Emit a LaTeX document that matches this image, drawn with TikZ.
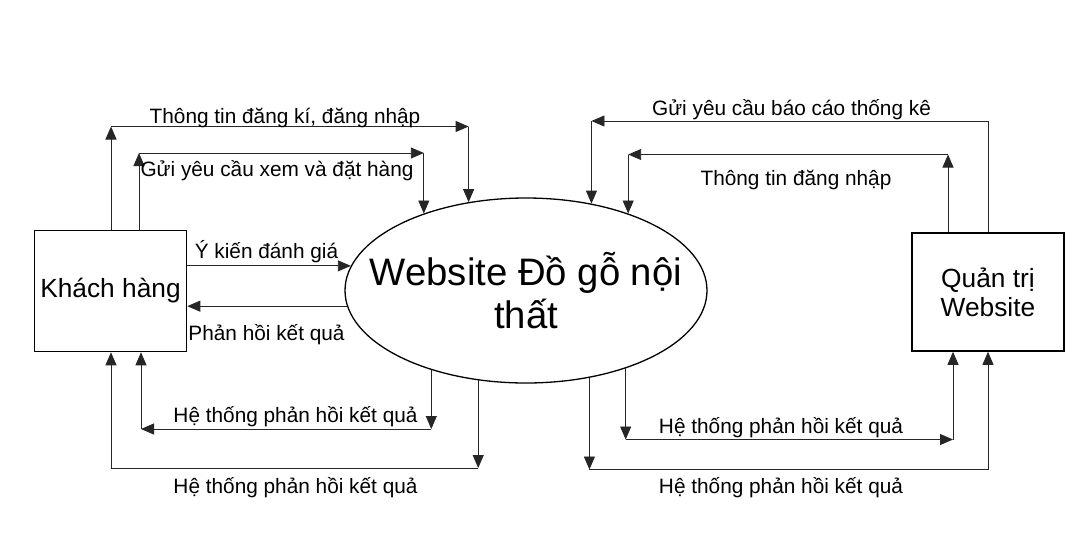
\documentclass[tikz,border=0pt]{standalone}
\usepackage{fontspec}
\setmainfont{Liberation Sans}
\usetikzlibrary{arrows.meta, shapes.geometric}

\begin{document}
\begin{tikzpicture}[
    x=1pt, y=-1pt,
    kbox/.style={draw, line width=1.6pt, minimum width=152pt, minimum height=121pt, inner sep=0pt, align=center, font=\fontsize{26.3}{29}\selectfont},
    webell/.style={draw, ellipse, line width=1.3pt, minimum width=362pt, minimum height=185pt, inner sep=0pt},
    bigtxt/.style={align=center, inner sep=0pt, font=\fontsize{38.3}{43}\selectfont},
    arr/.style={-{Triangle[length=13pt, width=11pt]}, line width=0.9pt, draw=black!85},
    plain/.style={line width=0.9pt, draw=black!85},
    lbl/.style={anchor=base, inner sep=0pt, font=\fontsize{20.8}{24}\selectfont}
]
\path[use as bounding box, fill=white] (0,0) rectangle (1090,542);
% Entities and process
\node[kbox] (kh) at (110.5,291) {Khách hàng};
\node[kbox, minimum height=118pt] (qt) at (988,292) {Quản trị\\Website};
\node[webell] (web) at (526,290.5) {};
\node[bigtxt] (webtxt) at (web.center) {Website Đồ gỗ nội\\thất};
% Corner points
\coordinate (c1) at (111,126.5);
\coordinate (c2) at (web.123 |- c1);
\coordinate (c3) at (139,153);
\coordinate (c4) at (web.143.55 |- c3);
\coordinate (c5) at (web.220.5 |- 0,429);
\coordinate (c6) at (141,429);
\coordinate (c7) at (web.242.24 |- 0,468);
\coordinate (c8) at (111,468);
\coordinate (c9) at (web.322.75 |- 0,439.5);
\coordinate (c10) at (953,439.5);
\coordinate (c11) at (web.306.5 |- 0,469.5);
\coordinate (c12) at (988,469.5);
\coordinate (c13) at (988,121);
\coordinate (c14) at (web.53.5 |- c13);
\coordinate (c15) at (948,154.5);
\coordinate (c16) at (web.37.25 |- c15);
% --- Khach hang -> Website ---
\draw[arr] (c1 |- kh.north) -- (c1);
\draw[arr] (c1) -- (c2);
\draw[arr] (c2) -- (web.123);
\draw[arr] (c3 |- kh.north) -- (c3);
\draw[arr] (c3) -- (c4);
\draw[arr] (c4) -- (web.143.55);
\draw[arr] (kh.east |- web.172.36) -- (web.172.36);
\draw[arr] (web.185.96) -- (kh.east |- web.185.96);
% --- Website -> Khach hang ---
\draw[arr] (web.220.5) -- (c5);
\draw[arr] (c5) -- (c6);
\draw[arr] (c6) -- (c6 |- kh.south);
\draw[arr] (web.242.24) -- (c7);
\draw[plain] (c7) -- (c8);
\draw[arr] (c8) -- (c8 |- kh.south);
% --- Quan tri <-> Website ---
\draw[plain] (c13 |- qt.north) -- (c13);
\draw[arr] (c13) -- (c14);
\draw[arr] (c14) -- (web.53.5);
\draw[arr] (c15 |- qt.north) -- (c15);
\draw[arr] (c15) -- (c16);
\draw[arr] (c16) -- (web.37.25);
\draw[arr] (web.322.75) -- (c9);
\draw[arr] (c9) -- (c10);
\draw[arr] (c10) -- (c10 |- qt.south);
\draw[arr] (web.306.5) -- (c11);
\draw[plain] (c11) -- (c12);
\draw[arr] (c12) -- (c12 |- qt.south);
% Labels
\node[lbl] (l1) at (285,123) {Thông tin đăng kí, đăng nhập};
\node[lbl] (l2) at (277,176.7) {Gửi yêu cầu xem và đặt hàng};
\node[lbl] (l3) at (266.5,258) {Ý kiến đánh giá};
\node[lbl] (l4) at (266.5,340) {Phản hồi kết quả};
\node[lbl] (l5) at (295.5,422) {Hệ thống phản hồi kết quả};
\node[lbl] (l6) at (295.5,493.3) {Hệ thống phản hồi kết quả};
\node[lbl] (l7) at (791.5,115) {Gửi yêu cầu báo cáo thống kê};
\node[lbl] (l8) at (796,185) {Thông tin đăng nhập};
\node[lbl] (l9) at (781,433.3) {Hệ thống phản hồi kết quả};
\node[lbl] (l10) at (781,493.3) {Hệ thống phản hồi kết quả};
\end{tikzpicture}
\end{document}
